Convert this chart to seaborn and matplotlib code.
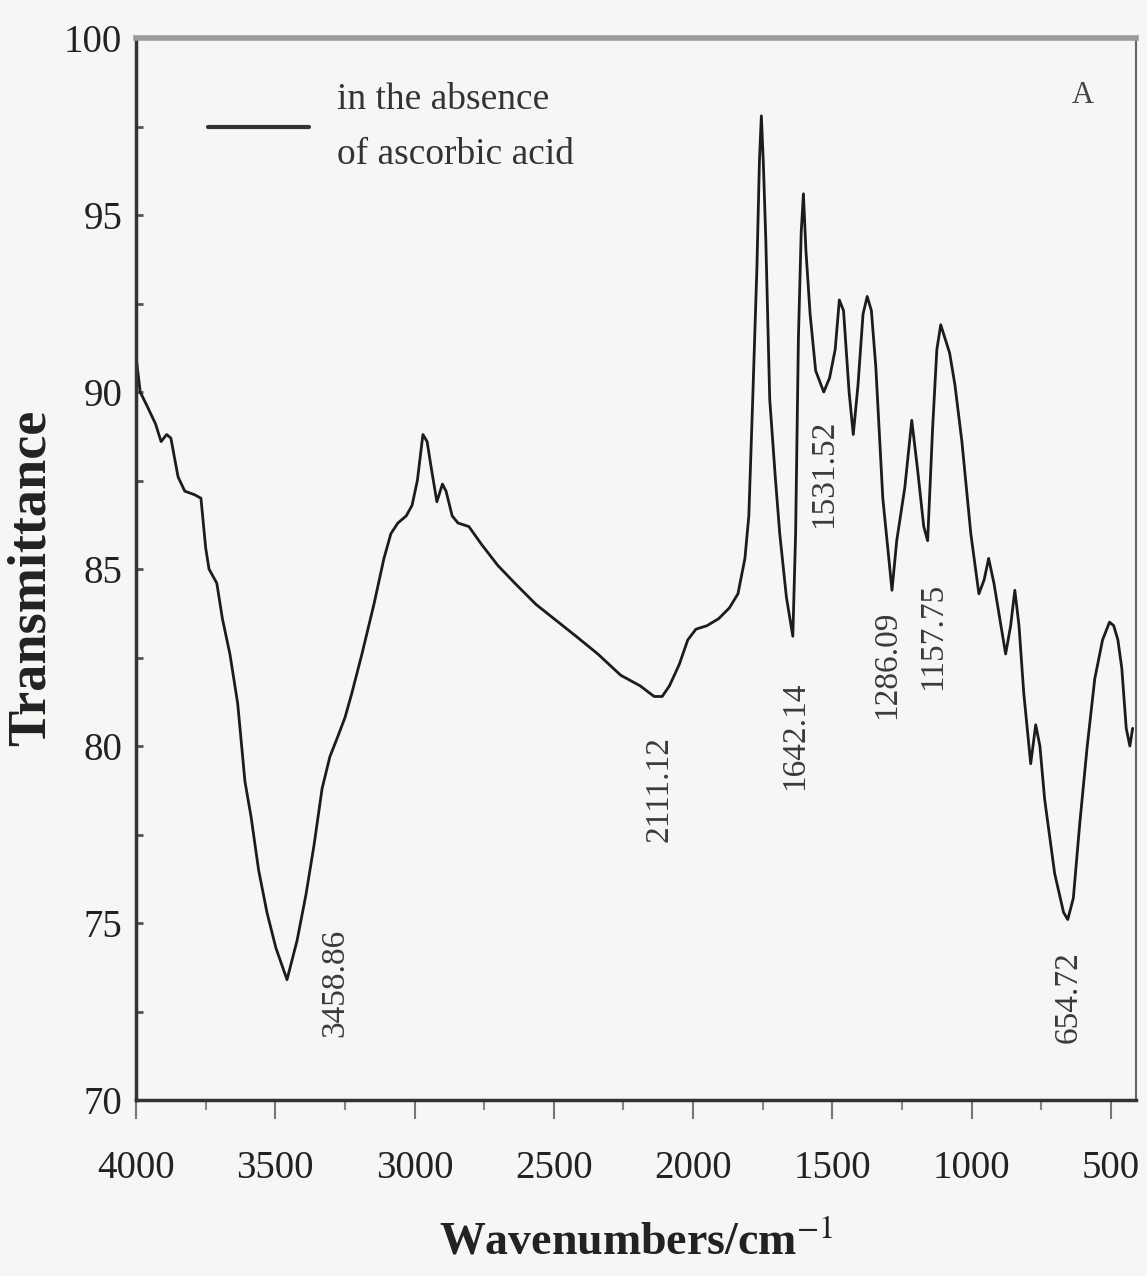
import matplotlib
matplotlib.use('Agg')
import matplotlib.pyplot as plt
import pandas as pd
import seaborn as sns
from matplotlib.ticker import MultipleLocator

# FTIR spectrum
wavenumber = [
    4000, 3985, 3960, 3930, 3910, 3890, 3875, 3849, 3825, 3790, 3767, 3750, 3738,
    3710, 3690, 3663, 3635, 3609, 3587, 3560, 3530, 3498, 3458, 3422, 3390, 3361,
    3332, 3304, 3279, 3250, 3225, 3189, 3146, 3110, 3085, 3060, 3030, 3009, 2990,
    2970, 2955, 2941, 2920, 2900, 2887, 2865, 2844, 2805, 2760, 2701, 2640, 2564,
    2500, 2420, 2342, 2260, 2190, 2140, 2111, 2085, 2050, 2019, 1990, 1950, 1908,
    1870, 1839, 1814, 1800, 1786, 1771, 1762, 1755, 1748, 1739, 1725, 1705, 1689,
    1665, 1642, 1632, 1622, 1612, 1604, 1595, 1580, 1560, 1531, 1510, 1490, 1475,
    1460, 1440, 1425, 1408, 1390, 1375, 1360, 1344, 1319, 1286, 1269, 1240, 1215,
    1194, 1172, 1158, 1140, 1125, 1111, 1079, 1060, 1035, 1003, 974, 955, 939, 920,
    899, 878, 860, 845, 830, 813, 788, 770, 755, 738, 702, 670, 655, 635, 612, 585,
    558, 530, 505, 490, 475, 461, 445, 432, 422,
]
transmittance = [
    91.0, 90.0, 89.6, 89.1, 88.6, 88.8, 88.7, 87.6, 87.2, 87.1, 87.0, 85.6, 85.0,
    84.6, 83.6, 82.6, 81.2, 79.0, 78.0, 76.5, 75.3, 74.3, 73.4, 74.5, 75.8, 77.2,
    78.8, 79.7, 80.2, 80.8, 81.5, 82.6, 84.0, 85.3, 86.0, 86.3, 86.5, 86.8, 87.5,
    88.8, 88.6, 87.9, 86.9, 87.4, 87.2, 86.5, 86.3, 86.2, 85.7, 85.1, 84.6, 84.0,
    83.6, 83.1, 82.6, 82.0, 81.7, 81.4, 81.4, 81.7, 82.3, 83.0, 83.3, 83.4, 83.6,
    83.9, 84.3, 85.3, 86.5, 89.8, 93.5, 96.5, 97.8, 96.5, 94.3, 89.8, 87.6, 86.0,
    84.2, 83.1, 86.0, 91.5, 94.5, 95.6, 94.0, 92.2, 90.6, 90.0, 90.4, 91.2, 92.6,
    92.3, 90.0, 88.8, 90.2, 92.2, 92.7, 92.3, 90.7, 87.0, 84.4, 85.8, 87.3, 89.2,
    87.8, 86.2, 85.8, 89.0, 91.2, 91.9, 91.1, 90.2, 88.6, 86.0, 84.3, 84.7, 85.3, 84.6,
    83.6, 82.6, 83.4, 84.4, 83.4, 81.5, 79.5, 80.6, 80.0, 78.5, 76.4, 75.3, 75.1, 75.7, 77.8, 80.0,
    81.9, 83.0, 83.5, 83.4, 83.0, 82.2, 80.5, 80.0, 80.5,
]

peak_labels = ['3458.86', '2111.12', '1642.14', '1531.52', '1286.09', '1157.75', '654.72']
label_wn = [3286, 2123, 1635, 1531, 1305, 1140, 651]
label_t = [73.3, 78.8, 80.3, 87.7, 82.3, 83.1, 72.9]

x_ticks = [4000, 3500, 3000, 2500, 2000, 1500, 1000, 500]
y_ticks = [70, 75, 80, 85, 90, 95, 100]

paper = '#f6f6f4'

sns.set_theme(style='ticks')
plt.rcParams['font.family'] = ['Liberation Serif', 'DejaVu Serif']
plt.rcParams['mathtext.fontset'] = 'stix'

fig = plt.figure(figsize=(11.47, 12.76), dpi=100, facecolor=paper)
ax = fig.add_axes([0.1186, 0.1379, 0.8718, 0.8323], facecolor=paper)

df = pd.DataFrame({'Wavenumber': wavenumber, 'Transmittance': transmittance})
sns.lineplot(data=df, x='Wavenumber', y='Transmittance', sort=False, estimator=None,
             color='#1c1c1c', linewidth=2, label='in the absence\nof ascorbic acid', ax=ax)

ax.set_xlim(4000, 410)
ax.set_ylim(70, 100)
ax.set_xticks(x_ticks)
ax.set_yticks(y_ticks)
ax.xaxis.set_minor_locator(MultipleLocator(250))
ax.yaxis.set_minor_locator(MultipleLocator(2.5))
ax.set_xlabel('')
ax.set_ylabel('')

ax.tick_params(axis='x', which='major', direction='out', length=14, width=1.5,
               color='#777777', pad=22, labelsize=28, labelcolor='#222222')
ax.tick_params(axis='x', which='minor', direction='out', length=7, width=1.5, color='#888888')
ax.tick_params(axis='y', which='major', direction='in', length=5, width=2,
               color='#555555', pad=10, labelsize=28, labelcolor='#222222')
ax.tick_params(axis='y', which='minor', direction='in', length=5, width=2, color='#555555')

for side in ['left', 'bottom']:
    ax.spines[side].set_linewidth(2.5)
    ax.spines[side].set_color('#333333')
ax.spines['top'].set_linewidth(4)
ax.spines['top'].set_color('#9a9a9a')
ax.spines['right'].set_linewidth(1.5)
ax.spines['right'].set_color('#666666')

for txt, wn, t in zip(peak_labels, label_wn, label_t):
    ax.text(wn, t, txt, rotation=90, ha='center', va='center', fontsize=24, color='#3a3a3a')

ax.text(0.947, 0.946, 'A', transform=ax.transAxes, ha='center', va='center',
        fontsize=22, color='#444444')

leg = ax.legend(loc='upper left', bbox_to_anchor=(0.072, 0.958), frameon=False,
                fontsize=27, handlelength=2.7, handletextpad=0.75,
                borderpad=0, borderaxespad=0)
leg.get_lines()[0].set_linewidth(3)
leg.get_lines()[0].set_color('#333333')
leg.get_texts()[0].set_linespacing(1.75)
leg.get_texts()[0].set_color('#333333')

fig.text(32 / 1147, 1 - 578 / 1276, 'Transmittance', rotation=90, ha='center', va='center',
         fontsize=39, fontweight='bold', color='#222222')
fig.text(636 / 1147, 1 - 1243 / 1276, 'Wavenumbers/cm$^{-1}$', ha='center', va='center',
         fontsize=33, fontweight='bold', color='#222222')

fig.savefig('out.png', dpi=100, facecolor=paper)
